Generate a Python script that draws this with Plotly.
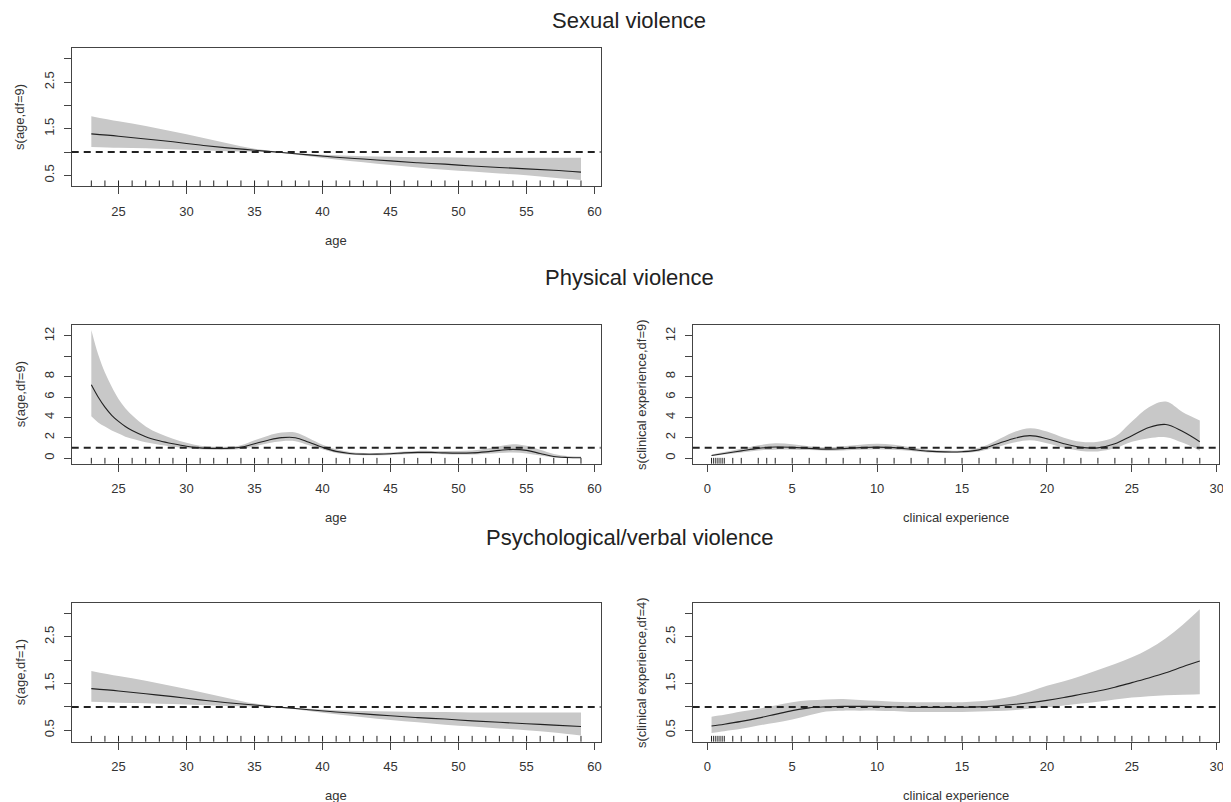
import plotly.graph_objects as go

# ---------------- data ----------------
# Sexual violence: s(age, df=9)
sex_age = [23, 25, 27, 29, 31, 33, 35, 37, 39, 41, 43, 45, 47, 49, 51, 53, 55, 57, 59]
sex_fit = [1.39, 1.34, 1.28, 1.22, 1.15, 1.09, 1.04, 0.99, 0.94, 0.89, 0.85, 0.81, 0.77, 0.74, 0.70, 0.67, 0.64, 0.61, 0.57]
sex_up = [1.77, 1.66, 1.56, 1.44, 1.32, 1.19, 1.07, 1.00, 0.96, 0.93, 0.91, 0.90, 0.89, 0.89, 0.88, 0.88, 0.88, 0.88, 0.88]
sex_lo = [1.11, 1.09, 1.08, 1.06, 1.04, 1.02, 1.01, 0.98, 0.91, 0.84, 0.78, 0.72, 0.67, 0.62, 0.58, 0.54, 0.50, 0.45, 0.40]

# Physical violence: s(age, df=9)
phy_age = [23, 23.5, 24, 24.5, 25, 25.5, 26, 27, 28, 29, 30, 31, 32, 33, 34, 35, 36, 37, 38, 39, 40,
           41, 42, 43, 44, 45, 46, 47, 48, 49, 50, 51, 52, 53, 54, 55, 56, 57, 58, 59]
phy_fit = [7.2, 6.0, 5.0, 4.2, 3.6, 3.1, 2.7, 2.1, 1.7, 1.4, 1.15, 1.0, 0.95, 0.95, 1.05, 1.4, 1.75, 2.0, 2.0, 1.55, 1.05,
           0.65, 0.45, 0.38, 0.38, 0.42, 0.5, 0.55, 0.55, 0.5, 0.48, 0.5, 0.6, 0.75, 0.85, 0.75, 0.45, 0.15, 0.05, 0.02]
phy_up = [12.6, 10.2, 8.4, 7.0, 5.8, 4.9, 4.2, 3.1, 2.4, 1.9, 1.5, 1.2, 1.1, 1.1, 1.25, 1.75, 2.2, 2.5, 2.5, 1.95, 1.3,
          0.85, 0.6, 0.5, 0.5, 0.55, 0.65, 0.7, 0.7, 0.7, 0.7, 0.75, 0.9, 1.15, 1.35, 1.2, 0.8, 0.4, 0.2, 0.15]
phy_lo = [4.1, 3.5, 3.1, 2.7, 2.4, 2.1, 1.9, 1.55, 1.3, 1.1, 0.95, 0.85, 0.8, 0.8, 0.88, 1.15, 1.45, 1.65, 1.65, 1.25, 0.85,
          0.5, 0.33, 0.28, 0.28, 0.3, 0.38, 0.4, 0.4, 0.38, 0.35, 0.35, 0.42, 0.5, 0.55, 0.45, 0.25, 0.05, 0.0, 0.0]

# Physical violence: s(clinical experience, df=9)
phy_exp = [0.25, 1, 2, 3, 4, 5, 6, 7, 8, 9, 10, 11, 12, 13, 14, 15, 16, 17, 18, 19, 20,
           21, 22, 23, 24, 25, 26, 27, 28, 29]
phy_exp_fit = [0.25, 0.45, 0.7, 0.95, 1.08, 1.05, 0.95, 0.87, 0.92, 1.02, 1.07, 1.02, 0.85, 0.68, 0.6, 0.62, 0.8, 1.35, 1.9, 2.2, 1.9,
               1.4, 1.05, 1.0, 1.4, 2.2, 3.0, 3.3, 2.6, 1.6]
phy_exp_up = [0.32, 0.58, 0.9, 1.25, 1.45, 1.35, 1.15, 1.05, 1.15, 1.3, 1.4, 1.3, 1.05, 0.82, 0.73, 0.75, 1.0, 1.7, 2.5, 2.92, 2.6,
              2.0, 1.6, 1.6, 2.1, 3.6, 5.0, 5.55, 4.5, 3.7]
phy_exp_lo = [0.2, 0.35, 0.55, 0.75, 0.82, 0.82, 0.78, 0.72, 0.75, 0.8, 0.85, 0.8, 0.68, 0.55, 0.5, 0.52, 0.65, 1.05, 1.5, 1.75, 1.45,
              1.0, 0.7, 0.65, 0.95, 1.6, 1.95, 2.05, 1.5, 0.72]

# Psychological/verbal violence: s(age, df=1)
psy_age = [23, 25, 27, 29, 31, 33, 35, 37, 39, 41, 43, 45, 47, 49, 51, 53, 55, 57, 59]
psy_fit = [1.39, 1.34, 1.28, 1.22, 1.15, 1.09, 1.04, 0.99, 0.94, 0.89, 0.85, 0.81, 0.77, 0.74, 0.70, 0.67, 0.64, 0.61, 0.58]
psy_up = [1.77, 1.66, 1.56, 1.44, 1.32, 1.19, 1.07, 1.00, 0.96, 0.93, 0.91, 0.90, 0.89, 0.89, 0.88, 0.88, 0.88, 0.88, 0.88]
psy_lo = [1.11, 1.09, 1.08, 1.06, 1.04, 1.02, 1.01, 0.98, 0.91, 0.84, 0.78, 0.72, 0.67, 0.62, 0.58, 0.54, 0.50, 0.45, 0.39]

# Psychological/verbal violence: s(clinical experience, df=4)
psy_exp = [0.25, 1, 2, 3, 4, 5, 6, 7, 8, 9, 10, 11, 12, 13, 14, 15, 16, 17, 18, 19, 20,
           21, 22, 23, 24, 25, 26, 27, 28, 29]
psy_exp_fit = [0.59, 0.63, 0.69, 0.76, 0.84, 0.92, 0.98, 1.0, 1.01, 1.01, 1.01, 1.0, 0.99, 0.99, 0.99, 0.99, 1.0, 1.02, 1.05, 1.09, 1.14,
               1.2, 1.27, 1.34, 1.42, 1.52, 1.62, 1.73, 1.86, 1.98]
psy_exp_up = [0.79, 0.83, 0.9, 0.96, 1.03, 1.1, 1.14, 1.16, 1.17, 1.15, 1.13, 1.11, 1.1, 1.1, 1.1, 1.1, 1.12, 1.16, 1.23, 1.33, 1.45,
              1.55, 1.66, 1.79, 1.92, 2.06, 2.24, 2.47, 2.76, 3.09]
psy_exp_lo = [0.44, 0.48, 0.53, 0.6, 0.66, 0.73, 0.82, 0.9, 0.92, 0.92, 0.92, 0.91, 0.89, 0.89, 0.89, 0.89, 0.9, 0.91, 0.93, 0.96, 0.99,
              1.03, 1.07, 1.11, 1.16, 1.2, 1.23, 1.25, 1.26, 1.27]

# rug values (observed data positions)
rug_age = list(range(23, 60))
rug_exp = [0.25, 0.375, 0.5, 0.625, 0.75, 0.875, 1.0, 1.5, 2, 3, 3.5, 4] + list(range(5, 30))

# tick labels
age_ticks = [25, 30, 35, 40, 45, 50, 55, 60]
exp_ticks = [0, 5, 10, 15, 20, 25, 30]
small_ticks = [0.5, 1.0, 1.5, 2.0, 2.5, 3.0]
small_text = ["0.5", "", "1.5", "", "2.5", ""]
big_ticks = [0, 2, 4, 6, 8, 10, 12]
big_text = ["0", "2", "4", "6", "8", "", "12"]

titles = ["Sexual violence", "Physical violence", "Psychological/verbal violence"]

# ---------------- layout geometry ----------------
OFF = 8  # page body margin
W, H = 1231 - OFF, 802 - OFF
FONT = "Liberation Sans, Arial, sans-serif"
TXT = "#333333"
AX = "#444444"

def px_x(p):
    return (p - OFF) / W

def px_y(p):
    return 1 - (p - OFF) / H

left_dom = [px_x(72), px_x(603)]
right_dom = [px_x(695.5), px_x(1224.3)]
row_dom = [
    [px_y(186.3), px_y(47.7)],
    [px_y(463.7), px_y(324.7)],
    [px_y(741.7), px_y(602.7)],
]

panels = [
    ("", left_dom, row_dom[0], [21.56, 60.44], [0.265, 3.24], age_ticks, small_ticks, small_text,
     sex_age, sex_fit, sex_up, sex_lo, rug_age, "age", "s(age,df=9)"),
    ("2", left_dom, row_dom[1], [21.56, 60.44], [-0.56, 13.11], age_ticks, big_ticks, big_text,
     phy_age, phy_fit, phy_up, phy_lo, rug_age, "age", "s(age,df=9)"),
    ("3", right_dom, row_dom[1], [-0.86, 30.15], [-0.56, 13.11], exp_ticks, big_ticks, big_text,
     phy_exp, phy_exp_fit, phy_exp_up, phy_exp_lo, rug_exp, "clinical experience", "s(clinical experience,df=9)"),
    ("4", left_dom, row_dom[2], [21.56, 60.44], [0.255, 3.23], age_ticks, small_ticks, small_text,
     psy_age, psy_fit, psy_up, psy_lo, rug_age, "age", "s(age,df=1)"),
    ("5", right_dom, row_dom[2], [-0.86, 30.15], [0.255, 3.23], exp_ticks, small_ticks, small_text,
     psy_exp, psy_exp_fit, psy_exp_up, psy_exp_lo, rug_exp, "clinical experience", "s(clinical experience,df=4)"),
]

fig = go.Figure()
layout = dict(
    width=W, height=H,
    margin=dict(l=0, r=0, t=0, b=0),
    paper_bgcolor="white", plot_bgcolor="white",
    showlegend=False,
    font=dict(family=FONT, color=TXT, size=13),
)
shapes = []
annotations = []

for (sfx, xd, yd, xr, yr, xt, yt, ytt, xs, fit, up, lo, rug, xlab, ylab) in panels:
    xa = "x" + sfx
    ya = "y" + sfx
    fig.add_trace(go.Scatter(x=xs, y=lo, mode="lines", line=dict(width=0, color="rgba(0,0,0,0)"),
                             xaxis=xa, yaxis=ya, hoverinfo="skip", line_shape="spline"))
    fig.add_trace(go.Scatter(x=xs, y=up, mode="lines", line=dict(width=0, color="rgba(0,0,0,0)"),
                             fill="tonexty", fillcolor="#c8c8c8",
                             xaxis=xa, yaxis=ya, hoverinfo="skip", line_shape="spline"))
    fig.add_trace(go.Scatter(x=xs, y=fit, mode="lines", line=dict(width=1.1, color="#222222"),
                             xaxis=xa, yaxis=ya, line_shape="spline"))

    common = dict(showline=True, mirror=True, linecolor=AX, linewidth=1,
                  ticks="outside", ticklen=7, tickcolor=AX, tickwidth=1,
                  showgrid=False, zeroline=False,
                  tickfont=dict(family=FONT, size=13, color=TXT))
    layout["xaxis" + sfx] = dict(domain=xd, range=xr, tickvals=xt, ticktext=[str(v) for v in xt],
                                 anchor=ya, ticklabelstandoff=6, **common)
    layout["yaxis" + sfx] = dict(domain=yd, range=yr, tickvals=yt, ticktext=ytt, tickangle=-90,
                                 anchor=xa, ticklabelstandoff=5, **common)

    shapes.append(dict(type="line", xref=xa + " domain", yref=ya, x0=0, x1=1, y0=1, y1=1,
                       line=dict(color="#222222", width=2, dash="7px,5px"), layer="above"))
    for r in rug:
        shapes.append(dict(type="line", xref=xa, yref=ya + " domain", x0=r, x1=r, y0=0, y1=0.042,
                           line=dict(color="#222222", width=1)))

    xc = (xd[0] + xd[1]) / 2
    ybot = yd[0]
    annotations.append(dict(text=xlab, xref="paper", yref="paper", x=xc, y=ybot - 54 / H,
                            showarrow=False, xanchor="center", yanchor="middle",
                            font=dict(family=FONT, size=13, color=TXT)))
    yc = (yd[0] + yd[1]) / 2
    annotations.append(dict(text=ylab, xref="paper", yref="paper", x=xd[0] - 52 / W, y=yc,
                            showarrow=False, xanchor="center", yanchor="middle", textangle=-90,
                            font=dict(family=FONT, size=13, color=TXT)))

for t, yp in zip(titles, [20, 277, 537]):
    annotations.append(dict(text=t, xref="paper", yref="paper", x=px_x(632), y=px_y(yp),
                            showarrow=False, xanchor="center", yanchor="middle",
                            font=dict(family=FONT, size=22, color="#222222")))

layout["shapes"] = shapes
layout["annotations"] = annotations
fig.update_layout(**layout)
fig.write_html("out.html")
